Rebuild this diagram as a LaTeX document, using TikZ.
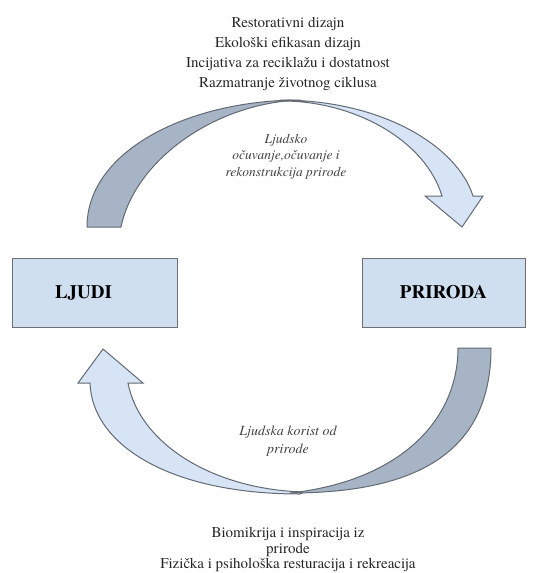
\documentclass[tikz,border=0pt]{standalone}
\usepackage{fontspec}
\setmainfont{TeX Gyre Termes}
\definecolor{boxfill}{RGB}{207,223,240}
\definecolor{boxedge}{RGB}{110,110,115}
\definecolor{lightarr}{RGB}{214,228,245}
\definecolor{darkarr}{RGB}{166,180,197}
\definecolor{edgegray}{RGB}{100,106,115}
\begin{document}
\begin{tikzpicture}[x=1pt,y=-1pt,
  box/.style={draw=boxedge, fill=boxfill, line width=1pt, minimum width=165pt, minimum height=69pt, inner sep=0pt, font=\fontsize{19}{22}\selectfont\bfseries},
  darkband/.style={draw=edgegray, fill=darkarr, line width=1pt, line join=round},
  lightband/.style={draw=edgegray, fill=lightarr, line width=1pt, line join=miter},
  plain/.style={inner sep=0pt, align=center, font=\fontsize{15}{19.7}\selectfont, text=black!85},
  note/.style={inner sep=0pt, align=center, font=\fontsize{13.5}{16.5}\selectfont\itshape, text=black!75}]
\useasboundingbox (0,0) rectangle (538,573);

% boxes
\node[box] (ljudi) at (94.5,292.5) {\hspace*{0pt}LJUDI\hspace*{22pt}};
\node[box, minimum width=163pt] (priroda) at (443.5,292.5) {PRIRODA};

% top curved arrow
\draw[lightband] (280,100) .. controls (385,100) and (458,148) .. (473,196) -- (483,196) -- (462,227) -- (425,196) -- (442,196) .. controls (425,140) and (355,102) .. (285,101) -- cycle;
\draw[darkband] (87,227) .. controls (87,150) and (190,100) .. (300,100) .. controls (215,103) and (135,160) .. (121,227) -- cycle;

% bottom curved arrow
\draw[lightband] (300,494) .. controls (170,494) and (92,445) .. (90,383) -- (78,383) -- (103,349) -- (143,383) -- (128,383) .. controls (140,445) and (215,490) .. (305,492) -- cycle;
\draw[darkband] (491,348) .. controls (491,450) and (420,493) .. (290,493) .. controls (400,481) and (458,420) .. (458,348) -- cycle;

% texts
\node[plain, anchor=north] (toptext) at (288,17.5) {Restorativni dizajn\\Ekološki efikasan dizajn\\Incijativa za reciklažu i dostatnost\\Razmatranje životnog ciklusa};
\node[note, anchor=north] (topnote) at (286,133.8) {Ljudsko\\očuvanje,očuvanje i\\rekonstrukcija prirode};
\node[note, anchor=north, font=\fontsize{14}{18}\selectfont\itshape] (botnote) at (288,425.4) {Ljudska korist od\\prirode};
\node[plain, anchor=north, font=\fontsize{15}{15.5}\selectfont] (bottext) at (288,527.5) {Biomikrija i inspiracija iz\\prirode\\Fizička i psihološka resturacija i rekreacija};
\end{tikzpicture}
\end{document}
